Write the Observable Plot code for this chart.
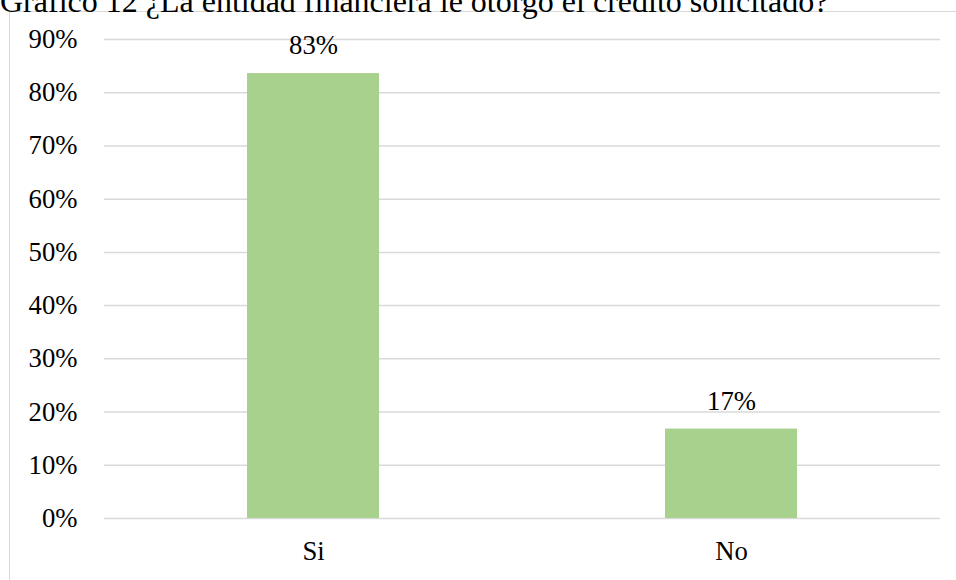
<!DOCTYPE html>
<html>
<head>
<meta charset="utf-8">
<script src="https://cdn.jsdelivr.net/npm/d3@7"></script>
<script src="https://cdn.jsdelivr.net/npm/@observablehq/plot@0.6"></script>
<style>
  html, body { margin: 0; padding: 0; background: #fff; overflow: hidden; }
  #wrap { position: relative; width: 956px; height: 580px; overflow: hidden; background: #fff; }
  #frame { position: absolute; left: 9px; top: 11px; width: 980px; height: 620px; border: 1.5px solid #d9d9d9; box-sizing: border-box; }
  #chart { position: absolute; left: 0; top: 0; font-family: 'Liberation Serif', serif; }
  #title { position: absolute; left: 0; top: -15px; font-family: 'Liberation Serif', serif; font-size: 32px; line-height: 32px; white-space: nowrap; color: #000; background: transparent; }
</style>
</head>
<body>
<div id="wrap">
  <div id="frame"></div>
  <div id="chart"></div>
  <div id="title">Gráfico 12 ¿La entidad financiera le otorgó el crédito solicitado?</div>
</div>
<script>
const categories = ["Si", "No"];
const values = [83.6, 16.8];
const valueLabels = ["83%", "17%"];
const yTicks = [0, 10, 20, 30, 40, 50, 60, 70, 80, 90];

const data = categories.map((c, i) => ({cat: c, value: values[i], label: valueLabels[i]}));
const serif = "Liberation Serif";

const chart = Plot.plot({
  width: 956,
  height: 580,
  marginTop: 39,
  marginBottom: 62,
  marginLeft: 104,
  marginRight: 16,
  style: {fontFamily: serif, fontSize: "26.7px", color: "#000", background: "transparent"},
  x: {domain: categories, paddingInner: 0.684, paddingOuter: 0.342, label: null},
  y: {domain: [0, 90], label: null},
  marks: [
    Plot.gridY(yTicks, {stroke: "#d9d9d9", strokeOpacity: 1, strokeWidth: 1.5}),
    Plot.barY(data, {x: "cat", y: "value", fill: "#a9d18e"}),
    Plot.text(data, {x: "cat", y: "value", text: "label", dy: -28, fill: "#000", fontFamily: serif}),
    Plot.axisY(yTicks, {tickSize: 0, tickPadding: 27, tickFormat: d => d + "%", label: null, fontFamily: serif}),
    Plot.axisX({tickSize: 0, tickPadding: 23, label: null, fontFamily: serif})
  ]
});
chart.querySelectorAll("text, g").forEach(el => {
  el.setAttribute("font-family", serif);
  el.style.fontFamily = "'Liberation Serif', serif";
});
document.getElementById("chart").appendChild(chart);
</script>
</body>
</html>
